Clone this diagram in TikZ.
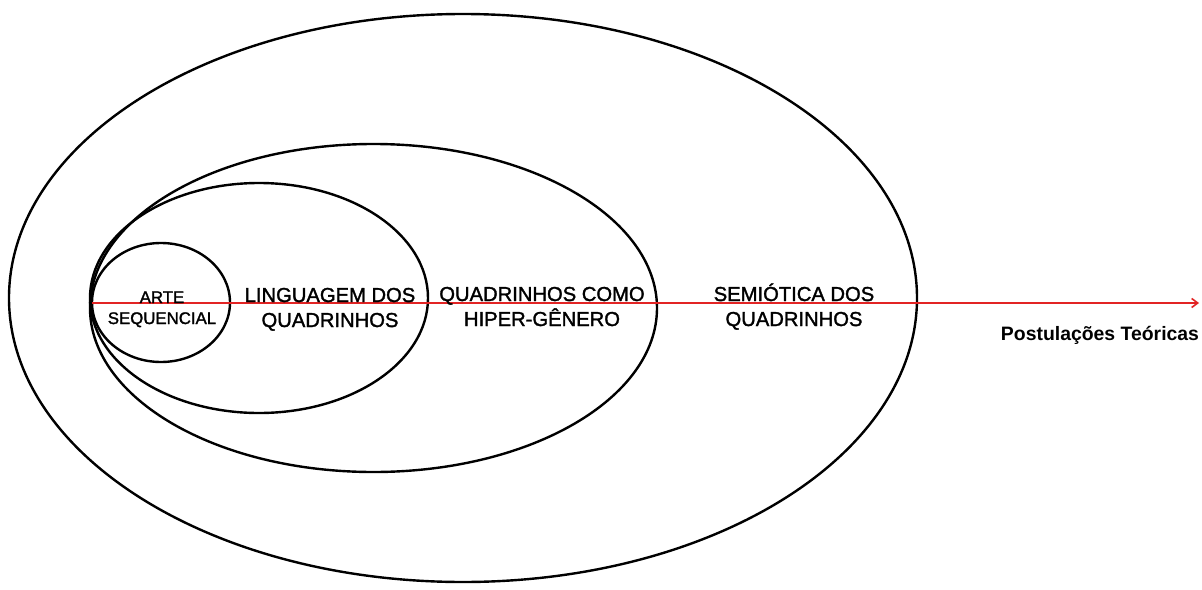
\documentclass[tikz,border=0pt]{standalone}
\usepackage{fontspec}
\setmainfont{Liberation Sans}
\newfontfamily\labelfont{Liberation Sans}[FakeBold=1.6]
\usetikzlibrary{shapes.geometric,arrows.meta}
\definecolor{axisred}{RGB}{226,36,36}
\begin{document}
\begin{tikzpicture}[x=1pt,y=-1pt,
  ring/.style={draw=black,line width=2.4pt,ellipse,inner sep=0pt,outer sep=0pt},
  lbl/.style={align=center,inner sep=0pt,anchor=base,font=\labelfont\fontsize{20.2}{25}\selectfont},
  small/.style={align=center,inner sep=0pt,anchor=base,font=\labelfont\fontsize{16.8}{21}\selectfont}]
  \useasboundingbox[fill=white] (0,0) rectangle (1202,589);
  % nested sets
  \node[ring,minimum width=908pt,minimum height=568pt] (semio) at (463,298) {};
  \node[ring,minimum width=567pt,minimum height=328pt] (hiper) at (373.5,308) {};
  \node[ring,minimum width=338pt,minimum height=230pt] (ling) at (259,298) {};
  \node[ring,minimum width=138pt,minimum height=119pt] (arte) at (161,302.5) {};
  % axis
  \coordinate (axisend) at (1199,303);
  \draw[axisred,line width=1.6pt,-{Straight Barb[length=6pt,width=9pt]}]
    (arte.west |- axisend) -- (axisend);
  % labels (anchored on the last baseline)
  \node[small] (tarte) at (162,324) {ARTE\\SEQUENCIAL};
  \node[lbl] (tling) at (330,327) {LINGUAGEM DOS\\QUADRINHOS};
  \node[lbl] (thiper) at (542,326) {QUADRINHOS COMO\\HIPER-GÊNERO};
  \node[lbl] (tsemio) at (794,326) {SEMIÓTICA DOS\\QUADRINHOS};
  \node[inner sep=0pt,anchor=base,font=\fontsize{19.4}{22}\selectfont\bfseries] (taxis) at (1100,340) {Postulações Teóricas};
\end{tikzpicture}
\end{document}
